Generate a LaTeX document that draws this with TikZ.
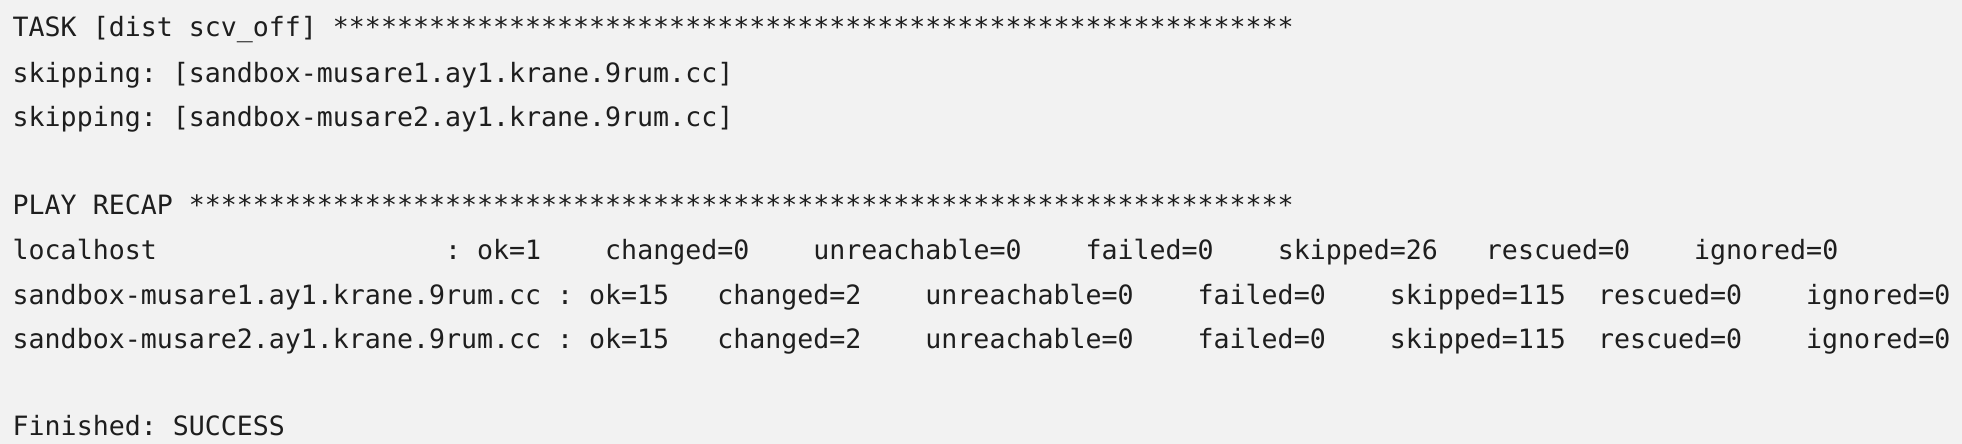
\documentclass[tikz,border=0pt]{standalone}
\usepackage{fontspec}
\setmonofont{DejaVu Sans Mono}
\definecolor{bg}{HTML}{F2F2F2}
\definecolor{fg}{HTML}{1E1E1E}
\begin{document}
\begin{tikzpicture}[x=1pt,y=-1pt,
  ln/.style={anchor=base west,inner sep=0pt,text=fg,font=\ttfamily\fontsize{26.6}{30}\selectfont\obeyspaces}]
\fill[bg] (0,0) rectangle (1962,444);
\useasboundingbox (0,0) rectangle (1962,444);
\node[ln] (l1) at (12.5,37) {TASK [dist scv\_off] ************************************************************};
\node[ln] (l2) at (12.5,82) {skipping: [sandbox-musare1.ay1.krane.9rum.cc]};
\node[ln] (l3) at (12.5,126) {skipping: [sandbox-musare2.ay1.krane.9rum.cc]};
\node[ln] (l4) at (12.5,214) {PLAY RECAP *********************************************************************};
\node[ln] (l5) at (12.5,259) {localhost                  : ok=1    changed=0    unreachable=0    failed=0    skipped=26   rescued=0    ignored=0};
\node[ln] (l6) at (12.5,304) {sandbox-musare1.ay1.krane.9rum.cc : ok=15   changed=2    unreachable=0    failed=0    skipped=115  rescued=0    ignored=0};
\node[ln] (l7) at (12.5,348) {sandbox-musare2.ay1.krane.9rum.cc : ok=15   changed=2    unreachable=0    failed=0    skipped=115  rescued=0    ignored=0};
\node[ln] (l8) at (12.5,435) {Finished: SUCCESS};
\end{tikzpicture}
\end{document}
